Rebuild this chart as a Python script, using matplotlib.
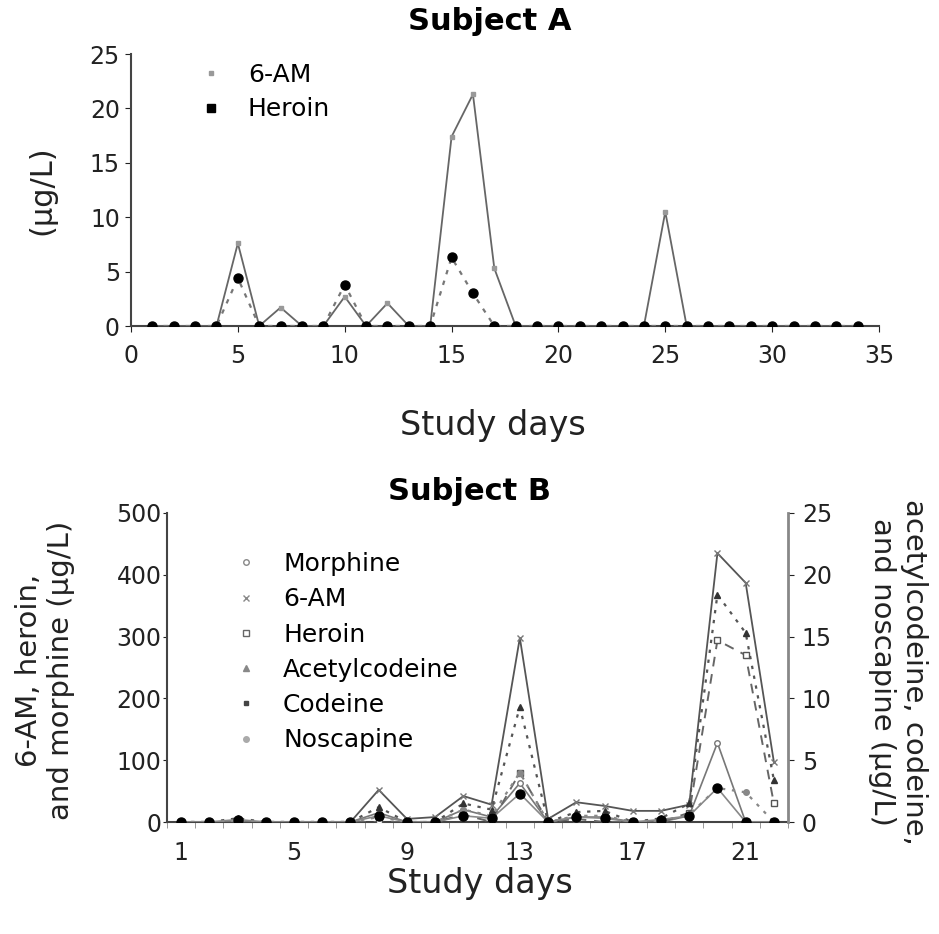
import matplotlib
matplotlib.use("Agg")
import matplotlib.pyplot as plt
from matplotlib.lines import Line2D
import numpy as np

# Subject A
days_a = list(range(1, 35))
sixam_a = [0, 0, 0, 0, 7.6, 0, 1.7, 0, 0, 2.7, 0, 2.1, 0, 0, 17.4, 21.3, 5.3,
           0, 0, 0, 0, 0, 0, 0, 10.5, 0, 0, 0, 0, 0, 0, 0, 0, 0]
heroin_a = [0, 0, 0, 0, 4.4, 0, 0, 0, 0, 3.8, 0, 0, 0, 0, 6.3, 3.0, 0,
            0, 0, 0, 0, 0, 0, 0, 0, 0, 0, 0, 0, 0, 0, 0, 0, 0]

# Subject B (left axis: 6-AM, heroin, morphine; right axis: the rest)
days_b = list(range(1, 23))
morphine_b = [0, 0, 0, 0, 0, 0, 0, 15, 0, 0, 20, 8, 63, 0, 8, 8, 0, 0, 10, 128, 0, 0]
sixam_b = [0, 0, 0, 0, 0, 0, 0, 52, 5, 8, 42, 28, 298, 5, 32, 26, 18, 18, 28, 435, 387, 97]
heroin_b = [0, 0, 0, 0, 0, 0, 0, 0, 0, 0, 12, 0, 80, 0, 5, 0, 0, 0, 15, 294, 270, 30]
acetyl_b = [0, 0, 0.3, 0, 0, 0, 0, 1.2, 0, 0, 1.5, 1.0, 9.3, 0, 0.8, 0.9, 0, 0.3, 1.5, 18.4, 15.3, 3.4]
codeine_b = [0, 0, 0.2, 0, 0, 0, 0, 0.5, 0, 0, 0.5, 0.3, 2.3, 0, 0.4, 0.3, 0, 0.2, 0.5, 2.75, 0, 0]
noscapine_b = [0, 0, 0, 0, 0, 0, 0, 0.4, 0, 0, 1.0, 0.5, 4.0, 0, 0.5, 0.5, 0, 0, 0.6, 2.75, 2.4, 0]

W, H = 939, 934
fig = plt.figure(figsize=(W / 100, H / 100), dpi=100)
plt.rcParams['font.family'] = ['DejaVu Sans']

def fx(px):
    return px / W

def fy(py):
    return 1 - py / H

TICK = 17
LEG = 18

# ---------------- Subject A ----------------
axa = fig.add_axes([fx(131), fy(326), fx(879 - 131), (326 - 54) / H])
axa.plot(days_a, sixam_a, color='#666666', lw=1.3, marker='s', ms=3,
         mfc='#999999', mec='#999999', zorder=3)
axa.plot(days_a, heroin_a, color='#777777', lw=1.6, ls=(0, (2, 3)),
         marker='o', ms=6.5, mfc='black', mec='black', zorder=4)
axa.set_xlim(0, 35)
axa.set_ylim(0, 25)
axa.set_xticks(range(0, 36, 5))
axa.set_yticks(range(0, 26, 5))
for s in ['top', 'right']:
    axa.spines[s].set_visible(False)
for s in ['left', 'bottom']:
    axa.spines[s].set_color('#444444')
    axa.spines[s].set_linewidth(1.5)
axa.tick_params(axis='x', labelsize=TICK, length=4, colors='#222222', pad=9)
axa.tick_params(axis='y', labelsize=TICK, length=4, colors='#222222', pad=4)
leg_a = [Line2D([], [], ls='none', marker='s', ms=3, color='#999999', label='6-AM'),
         Line2D([], [], ls='none', marker='s', ms=6, color='black', label='Heroin')]
fig.legend(handles=leg_a, loc='upper left', bbox_to_anchor=(fx(198), fy(63)), frameon=False,
           fontsize=LEG, handlelength=1, handletextpad=1.0, labelspacing=0.42,
           borderpad=0, borderaxespad=0)
fig.text(fx(490), fy(22), 'Subject A', ha='center', va='center', fontsize=22, fontweight='bold')
fig.text(fx(493), fy(425), 'Study days', ha='center', va='center', fontsize=24, color='#222222')
fig.text(fx(42), fy(190), '(µg/L)', ha='center', va='center', rotation=90, fontsize=22,
         color='#222222')

# ---------------- Subject B ----------------
axb = fig.add_axes([fx(167), fy(822), fx(788 - 167), (822 - 513) / H])
axr = axb.twinx()
axb.plot(days_b, sixam_b, color='#555555', lw=1.3, marker='x', ms=4, mec='#777777', zorder=3)
axb.plot(days_b, morphine_b, color='#777777', lw=1.2, marker='o', ms=4, mfc='white',
         mec='#777777', zorder=3)
axb.plot(days_b, heroin_b, color='#666666', lw=1.4, ls=(0, (5, 4)), marker='s', ms=4,
         mfc='white', mec='#555555', zorder=3)
axr.plot(days_b, acetyl_b, color='#555555', lw=1.6, ls=(0, (1.5, 3)), marker='^', ms=5,
         mfc='#333333', mec='#333333', zorder=3)
axr.plot(days_b, codeine_b, color='#888888', lw=1.2, marker='o', ms=6.5, mfc='black',
         mec='black', zorder=4)
axr.plot(days_b, noscapine_b, color='#888888', lw=1.6, ls=(0, (1.5, 3)), marker='o', ms=4,
         mfc='#888888', mec='#888888', zorder=3)

axb.set_xlim(0.5, 22.5)
axb.set_ylim(0, 500)
axr.set_ylim(0, 25)
axb.set_xticks([1, 5, 9, 13, 17, 21])
axb.set_xticks(np.arange(0.5, 23, 1), minor=True)
axb.set_yticks(range(0, 501, 100))
axr.set_yticks(range(0, 26, 5))
for a in [axb, axr]:
    a.spines['top'].set_visible(False)
axb.spines['right'].set_visible(False)
axr.spines['left'].set_visible(False)
axr.spines['bottom'].set_visible(False)
axb.spines['left'].set_color('#444444')
axb.spines['left'].set_linewidth(1.5)
axb.spines['bottom'].set_color('#444444')
axb.spines['bottom'].set_linewidth(1.5)
axr.spines['right'].set_color('#888888')
axr.spines['right'].set_linewidth(2)
axb.tick_params(axis='x', which='major', length=0, labelsize=TICK, pad=14, colors='#222222')
axb.tick_params(axis='x', which='minor', length=4, color='#888888')
axb.tick_params(axis='y', labelsize=TICK, length=3, colors='#222222', pad=1)
axr.tick_params(axis='y', labelsize=TICK, length=4, colors='#222222', pad=6)

leg_b = [Line2D([], [], ls='none', marker='o', ms=4, mfc='white', mec='#888888', label='Morphine'),
         Line2D([], [], ls='none', marker='x', ms=4, mec='#888888', label='6-AM'),
         Line2D([], [], ls='none', marker='s', ms=4, mfc='white', mec='#666666', label='Heroin'),
         Line2D([], [], ls='none', marker='^', ms=4, color='#888888', label='Acetylcodeine'),
         Line2D([], [], ls='none', marker='s', ms=3, color='#444444', label='Codeine'),
         Line2D([], [], ls='none', marker='o', ms=4, color='#aaaaaa', label='Noscapine')]
fig.legend(handles=leg_b, loc='upper left', bbox_to_anchor=(fx(233), fy(552)), frameon=False,
           fontsize=LEG, handlelength=1, handletextpad=1.0, labelspacing=0.45,
           borderpad=0, borderaxespad=0)

fig.text(fx(470), fy(492), 'Subject B', ha='center', va='center', fontsize=22, fontweight='bold')
fig.text(fx(480), fy(884), 'Study days', ha='center', va='center', fontsize=24, color='#222222')
fig.text(fx(45), fy(670), '6-AM, heroin,\nand morphine (µg/L)', ha='center', va='center',
         rotation=90, fontsize=21, color='#222222', linespacing=1.15)
fig.text(fx(898), fy(672), 'acetylcodeine, codeine,\nand noscapine (µg/L)', ha='center',
         va='center', rotation=270, fontsize=21, color='#222222', linespacing=1.15)

fig.savefig('out.png', dpi=100)
